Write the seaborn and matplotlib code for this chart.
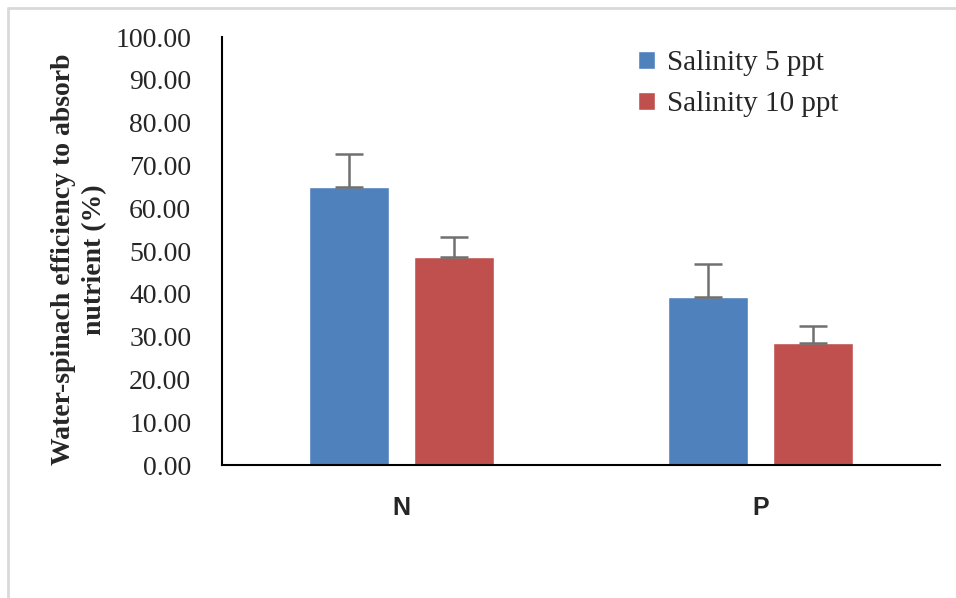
import pandas as pd
import seaborn as sns
import matplotlib.pyplot as plt
from matplotlib.lines import Line2D

# Values
nutrients = ['N', 'P']
groups = ['Salinity 5 ppt', 'Salinity 10 ppt']
salinity_5 = [65.0, 39.3]
salinity_10 = [48.7, 28.6]
err_5 = [7.8, 7.7]
err_10 = [4.5, 3.9]
y_ticks = [0, 10, 20, 30, 40, 50, 60, 70, 80, 90, 100]

df = pd.DataFrame({
    'nutrient': nutrients * 2,
    'group': [groups[0]] * 2 + [groups[1]] * 2,
    'value': salinity_5 + salinity_10,
    'err': err_5 + err_10,
})

sns.set_style('white')
plt.rcParams['font.family'] = ['Liberation Serif', 'DejaVu Serif']

fig = plt.figure(figsize=(9.56, 5.98), dpi=100)
ax = fig.add_axes([0.232, 0.222, 0.751, 0.716])

palette = {groups[0]: '#4F81BD', groups[1]: '#C0504D'}
sns.barplot(data=df, x='nutrient', y='value', hue='group', order=nutrients,
            hue_order=groups, palette=palette, width=0.585, gap=0.24,
            saturation=1, errorbar=None, ax=ax)

# one-sided error bars on top of each bar
rows = df.set_index(['group', 'nutrient'])
i = 0
for grp in groups:
    for nut in nutrients:
        p = ax.patches[i]
        i += 1
        x = p.get_x() + p.get_width() / 2
        h = rows.loc[(grp, nut), 'value']
        e = rows.loc[(grp, nut), 'err']
        ax.errorbar(x, h, yerr=[[0], [e]], fmt='none', ecolor='#707070',
                    elinewidth=1.8, capsize=10, capthick=1.8)

ax.set_xlim(-0.5, 1.5)
ax.set_ylim(0, 100)
ax.set_yticks(y_ticks)
ax.set_yticklabels([f'{t:.2f}' for t in y_ticks], fontsize=20)
ax.tick_params(axis='y', length=0, pad=22)
ax.tick_params(axis='x', length=0, pad=22)
for lbl in ax.get_xticklabels():
    lbl.set_fontfamily('Liberation Sans')
    lbl.set_fontweight('bold')
    lbl.set_fontsize(18)

ax.set_xlabel('')
ax.set_ylabel('Water-spinach efficiency to absorb\nnutrient (%)', fontsize=20,
              fontweight='bold', linespacing=1.3)
ax.yaxis.set_label_coords(-0.16, 0.48)

sns.despine(ax=ax)
for side in ['left', 'bottom']:
    ax.spines[side].set_color('black')
    ax.spines[side].set_linewidth(1.5)

ax.legend(loc='upper right', bbox_to_anchor=(0.895, 1.03), frameon=False,
          fontsize=21, handlelength=0.6, handleheight=0.6, handletextpad=0.4,
          labelspacing=0.5)

# light frame around the figure
fig.add_artist(Line2D([8 / 956, 8 / 956], [0, 1 - 8 / 598], color='#D9D9D9', lw=2))
fig.add_artist(Line2D([8 / 956, 1], [1 - 8 / 598, 1 - 8 / 598], color='#D9D9D9', lw=2))

plt.savefig('out.png', dpi=100)
